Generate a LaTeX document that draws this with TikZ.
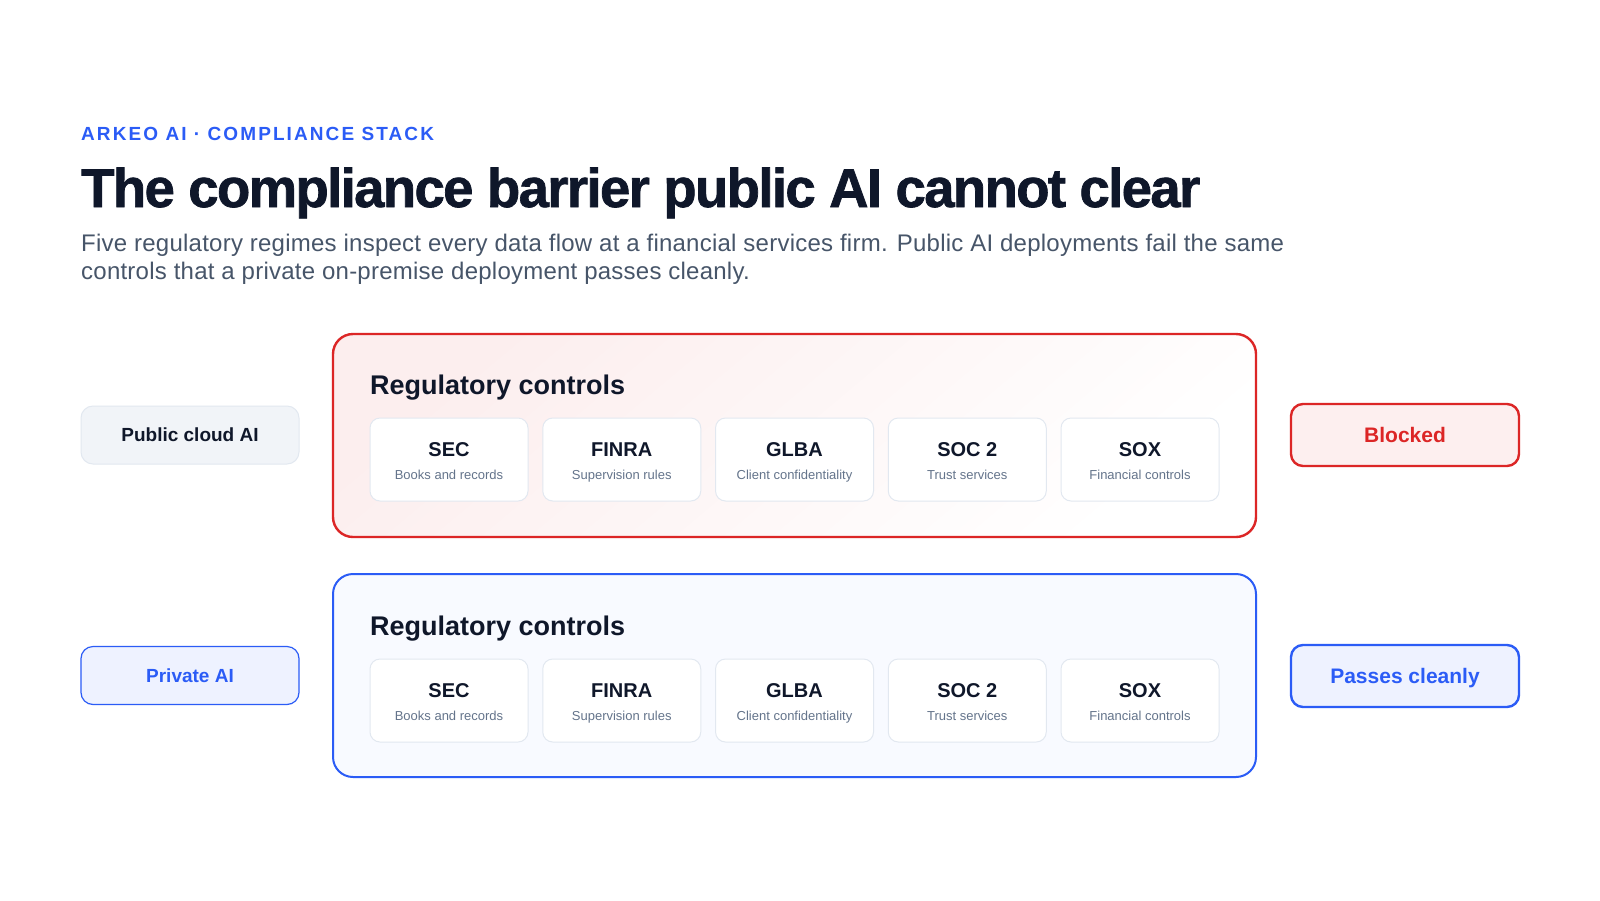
\documentclass[tikz,border=0pt]{standalone}
\usepackage{fontspec}
\setmainfont{Liberation Sans}
\newfontfamily\trackfont[LetterSpace=11]{Liberation Sans}
\newfontfamily\heavyfont[LetterSpace=-3,BoldFeatures={FakeBold=1.3}]{Liberation Sans}
\newfontfamily\subfont[LetterSpace=1]{Liberation Sans}
\definecolor{accent}{HTML}{2B5CF6}
\definecolor{ink}{HTML}{0F172A}
\definecolor{subink}{HTML}{475569}
\definecolor{muted}{HTML}{64748B}
\definecolor{cardline}{HTML}{E2E8F0}
\definecolor{redline}{HTML}{DC2626}
\definecolor{redfill}{HTML}{FDEFEF}
\definecolor{redpanel}{HTML}{FCEEEE}
\definecolor{bluefill}{HTML}{EEF2FF}
\definecolor{bluepanel}{HTML}{F8FAFF}
\definecolor{greyfill}{HTML}{F1F4F8}
\begin{document}
\begin{tikzpicture}[x=1pt,y=-1pt,
  panel/.style={rounded corners=20pt, line width=2.4pt, minimum width=923pt, minimum height=203pt, inner sep=0pt},
  card/.style={draw=cardline, fill=white, rounded corners=10pt, line width=1pt, minimum width=158pt, minimum height=83pt, inner sep=0pt},
  cardtitle/.style={font=\fontsize{20}{24}\selectfont\bfseries, text=ink, inner sep=0pt, anchor=base},
  cardsub/.style={font=\fontsize{13}{16}\selectfont, text=muted, inner sep=0pt, anchor=base},
  sidebox/.style={rounded corners=12pt, minimum width=218pt, minimum height=58pt, inner sep=0pt, text height=13.6pt, text depth=0pt, font=\fontsize{19}{23}\selectfont\bfseries},
  verdict/.style={rounded corners=12pt, minimum width=228pt, minimum height=62pt, inner sep=0pt, line width=2.4pt, text height=15pt, text depth=0pt, font=\fontsize{21}{25}\selectfont\bfseries},
  paneltitle/.style={font=\fontsize{27}{32}\selectfont\bfseries, text=ink, inner sep=0pt, anchor=base west}
]
\useasboundingbox (0,0) rectangle (1600,900);
\fill[white] (0,0) rectangle (1600,900);

% header texts
\node[anchor=base west, inner sep=0pt, text=accent, font=\trackfont\fontsize{19}{23}\selectfont\bfseries] (kicker) at (81,140) {ARKEO AI · COMPLIANCE STACK};
\node[anchor=base west, inner sep=0pt, text=ink, font=\heavyfont\fontsize{54.5}{60}\selectfont\bfseries] (title) at (81,207) {The compliance barrier public AI cannot clear};
\node[anchor=base west, inner sep=0pt, text=subink, font=\subfont\fontsize{24}{28}\selectfont] (sub1) at (81,251) {Five regulatory regimes inspect every data flow at a financial services firm. Public AI deployments fail the same};
\node[anchor=base west, inner sep=0pt, text=subink, font=\subfont\fontsize{24}{28}\selectfont] (sub2) at (81,279) {controls that a private on-premise deployment passes cleanly.};

% panels
\node[panel, draw=redline, top color=redpanel, bottom color=white, shading angle=40] (redp) at (794.5,435.5) {};
\node[panel, draw=accent, line width=2pt, fill=bluepanel] (bluep) at (794.5,675.5) {};

\node[paneltitle] (rt1) at (370,394) {Regulatory controls};
\node[paneltitle] (rt2) at (370,635) {Regulatory controls};

\foreach \i/\t/\s in {1/SEC/Books and records, 2/FINRA/Supervision rules, 3/GLBA/Client confidentiality, 4/SOC 2/Trust services, 5/SOX/Financial controls}{
  \pgfmathsetmacro{\cx}{794.5+(\i-3)*172.75}
  \node[card] (a\i) at (\cx,459.5) {};
  \node[cardtitle] (at\i) at (\cx,456) {\t};
  \node[cardsub] (as\i) at (\cx,479) {\s};
  \node[card] (b\i) at (\cx,700.5) {};
  \node[cardtitle] (bt\i) at (\cx,697) {\t};
  \node[cardsub] (bs\i) at (\cx,720) {\s};
}

% side boxes
\node[sidebox, draw=cardline, fill=greyfill, text=ink, line width=1pt] (pub) at (190,435) {Public cloud AI};
\node[sidebox, draw=accent, fill=bluefill, text=accent, line width=1.2pt] (priv) at (190,675.5) {Private AI};

\node[verdict, draw=redline, fill=redfill, text=redline] (blocked) at (1405,435) {Blocked};
\node[verdict, draw=accent, fill=bluefill, text=accent] (passes) at (1405,676) {Passes cleanly};
\end{tikzpicture}
\end{document}
